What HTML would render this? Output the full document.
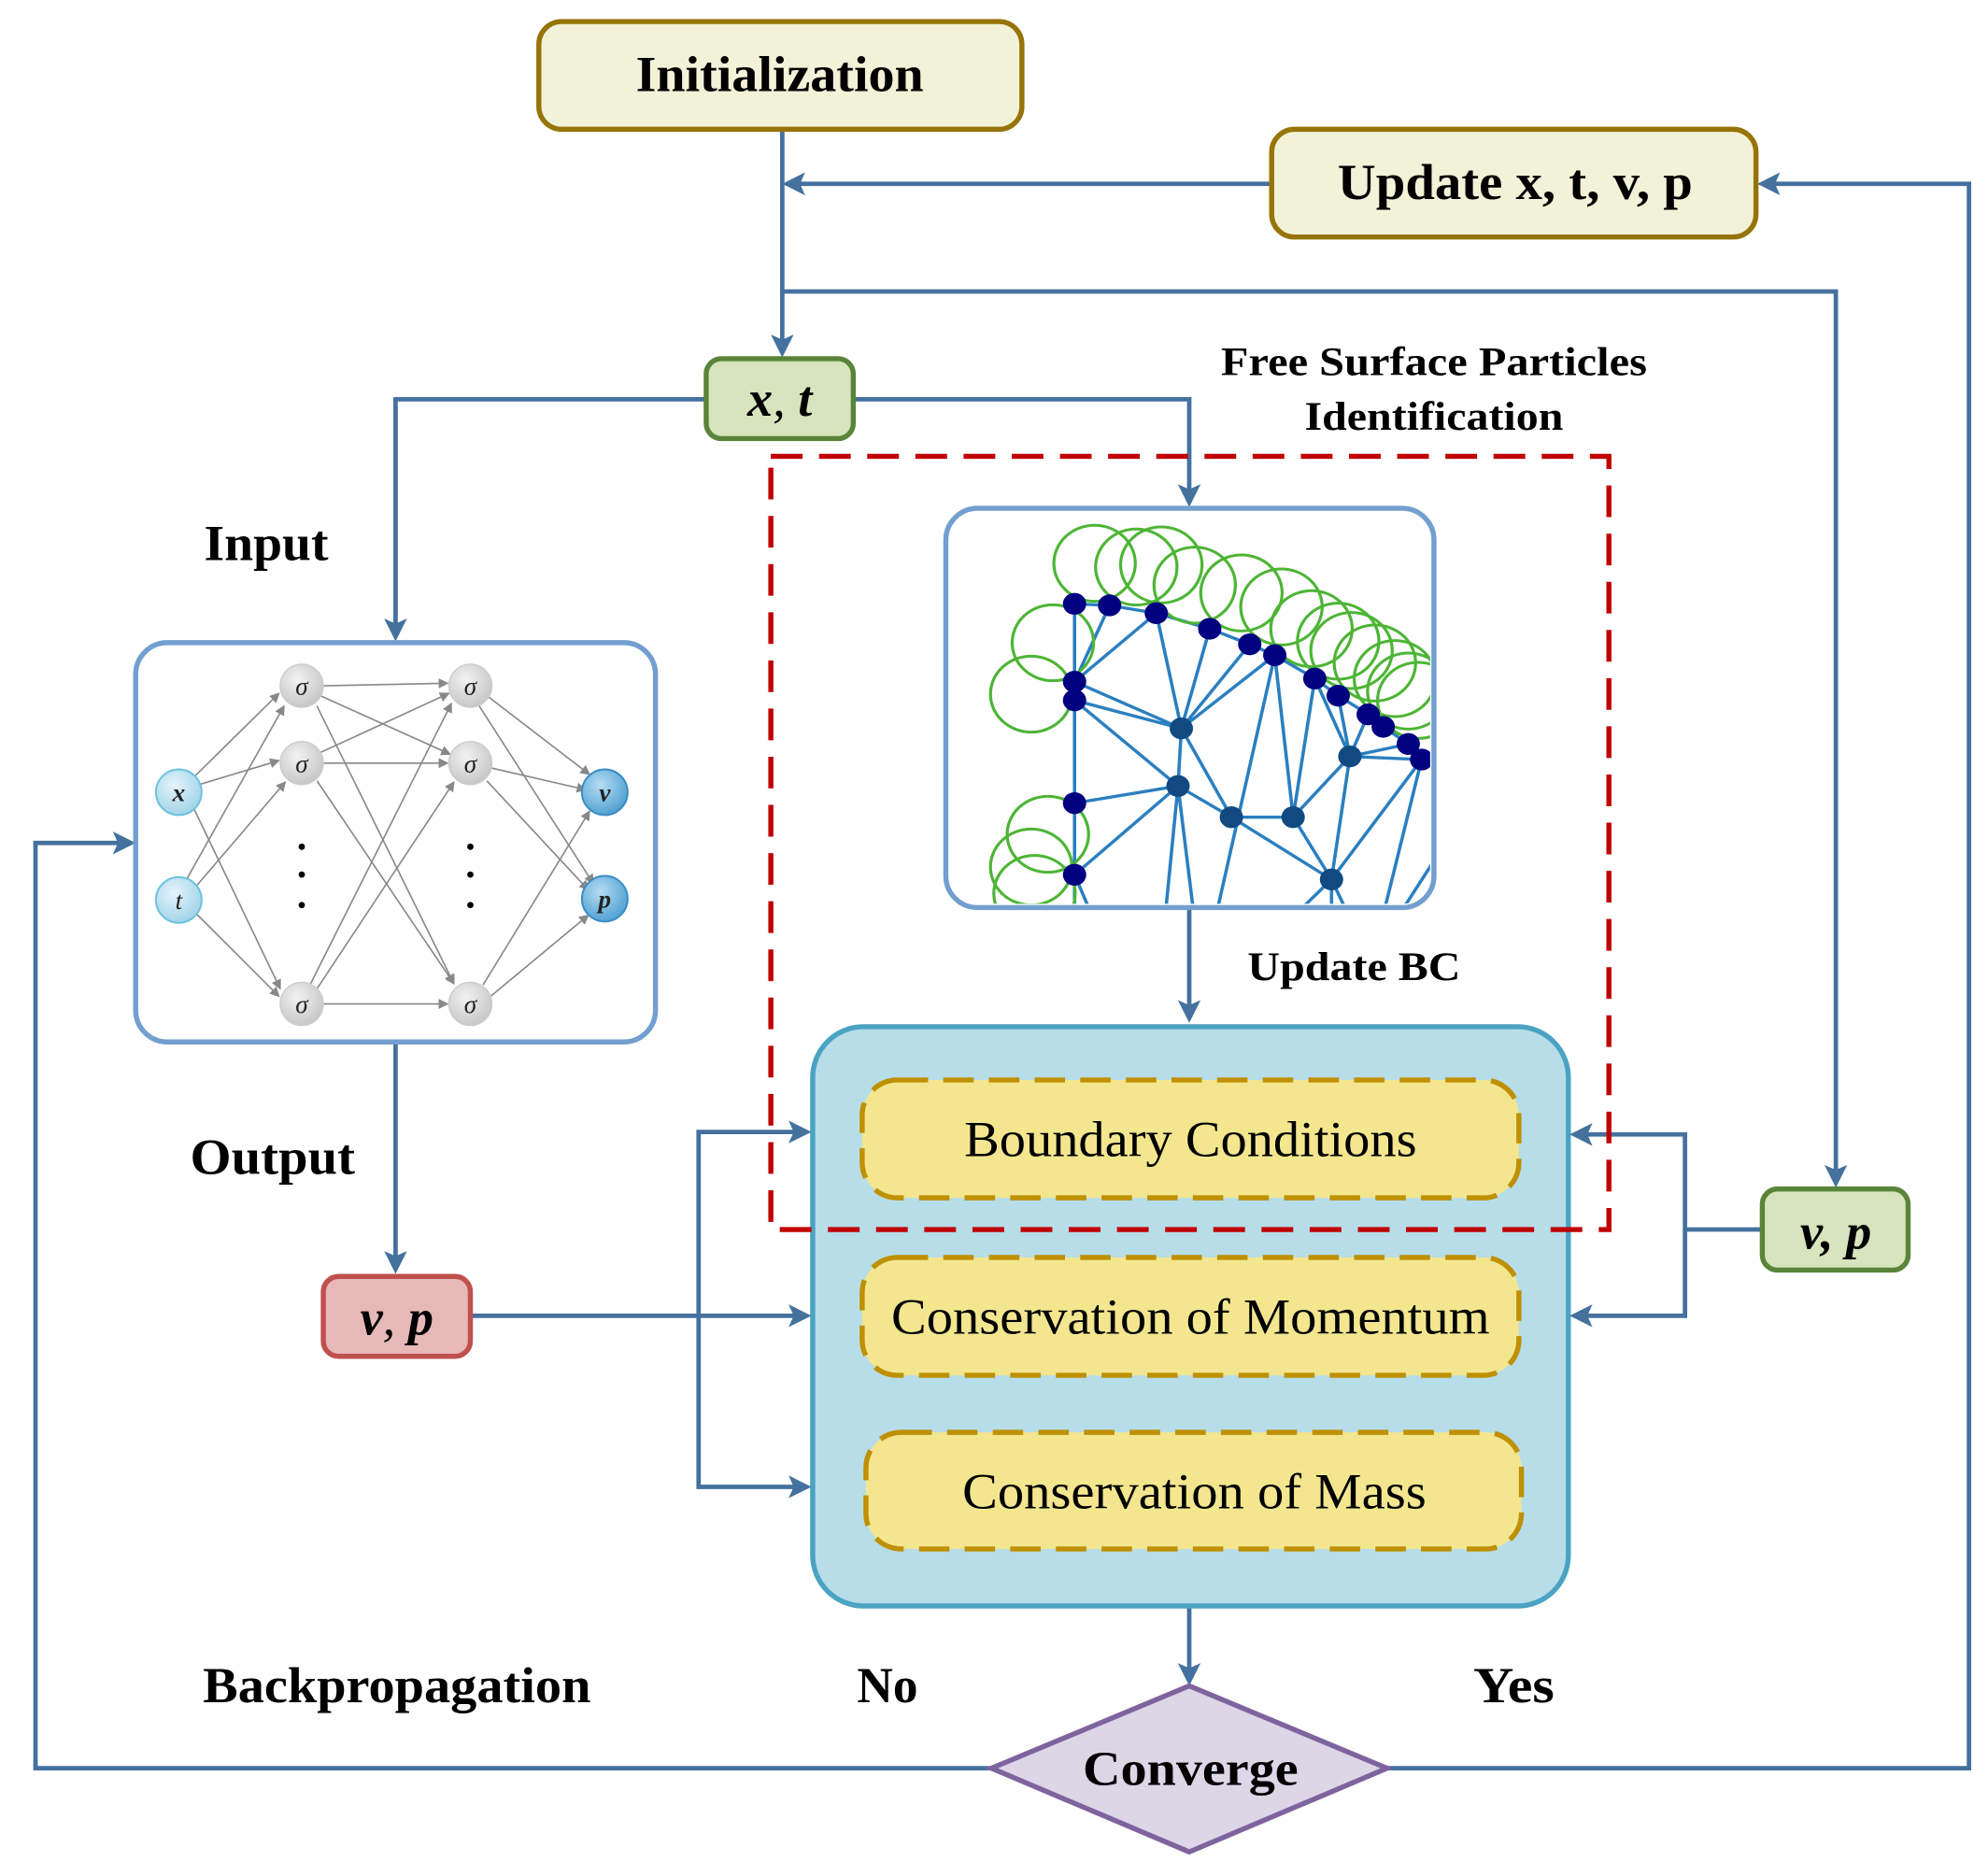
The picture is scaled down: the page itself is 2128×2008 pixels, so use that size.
<!DOCTYPE html>
<html><head><meta charset="utf-8"><style>html,body{margin:0;padding:0;background:#fff}svg{display:block}</style></head>
<body>
<svg width="2128" height="2008" viewBox="0 0 1568 1480" preserveAspectRatio="none" xmlns="http://www.w3.org/2000/svg" font-family="'Liberation Serif',serif">
<defs>
<clipPath id="pc"><rect x="749" y="404" width="379" height="309" rx="22"/></clipPath>
<marker id="g" markerWidth="8" markerHeight="8" refX="7" refY="4" orient="auto" markerUnits="userSpaceOnUse"><path d="M0,0 L8,4 L0,8 Z" fill="#888"/></marker>
<radialGradient id="gs" cx="0.4" cy="0.35" r="0.7"><stop offset="0" stop-color="#f2f2f2"/><stop offset="1" stop-color="#c4c4c4"/></radialGradient>
<radialGradient id="gb" cx="0.4" cy="0.35" r="0.7"><stop offset="0" stop-color="#e4f4fb"/><stop offset="1" stop-color="#9fd2e8"/></radialGradient>
<radialGradient id="go" cx="0.4" cy="0.35" r="0.7"><stop offset="0" stop-color="#b6dcf2"/><stop offset="1" stop-color="#4b9ed2"/></radialGradient>
</defs>

<!-- connectors -->
<g stroke="#44719e" stroke-width="3.5" fill="none">
<path d="M617,102 V270"/>
<path d="M1003,145 H628"/>
<path d="M617,230 H1448 V925"/>
<path d="M557,315 H312 V494"/>
<path d="M673,315 H938 V388"/>
<path d="M938,716 V795"/>
<path d="M312,822 V992"/>
<path d="M371,1038 H628"/>
<path d="M628,893 H551 V1173 H628"/>
<path d="M1390,970 H1329 V895 H1250 M1329,970 V1038 H1250"/>
<path d="M938,1267 V1318"/>
<path d="M782,1395 H28 V665 H94"/>
<path d="M1094,1395 H1553 V145 H1398"/>
</g>

<!-- big blue box -->
<rect x="641" y="810" width="596" height="457" rx="40" fill="#b7dde8" stroke="#4ba3c3" stroke-width="4"/>
<!-- red dashed -->
<rect x="608" y="360" width="661" height="610" fill="none" stroke="#c00000" stroke-width="4" stroke-dasharray="25,13"/>

<!-- yellow boxes -->
<g fill="#f3e68f" stroke="#bf9000" stroke-width="4" stroke-dasharray="24,12">
<rect x="680" y="852" width="518" height="93" rx="28"/>
<rect x="680" y="992" width="518" height="93" rx="28"/>
<rect x="683" y="1130" width="517" height="92" rx="28"/>
</g>
<g font-size="40" text-anchor="middle" fill="#000">
<text x="939" y="912" textLength="357" lengthAdjust="spacingAndGlyphs">Boundary Conditions</text>
<text x="939" y="1052" textLength="472" lengthAdjust="spacingAndGlyphs">Conservation of Momentum</text>
<text x="942" y="1190" textLength="366" lengthAdjust="spacingAndGlyphs">Conservation of Mass</text>
</g>

<!-- arrowheads -->
<g fill="#44719e">
<path d="M617,282 L608,264 L617,268 L626,264 Z"/>
<path d="M617,145 L635,136 L631,145 L635,154 Z"/>
<path d="M1448,937 L1439,919 L1448,923 L1457,919 Z"/>
<path d="M312,506 L303,488 L312,492 L321,488 Z"/>
<path d="M938,400 L929,382 L938,386 L947,382 Z"/>
<path d="M938,807 L929,789 L938,793 L947,789 Z"/>
<path d="M312,1005 L303,987 L312,991 L321,987 Z"/>
<path d="M640,1038 L622,1029 L626,1038 L622,1047 Z"/>
<path d="M640,893 L622,884 L626,893 L622,902 Z"/>
<path d="M640,1173 L622,1164 L626,1173 L622,1182 Z"/>
<path d="M1238,895 L1256,886 L1252,895 L1256,904 Z"/>
<path d="M1238,1038 L1256,1029 L1252,1038 L1256,1047 Z"/>
<path d="M938,1330 L929,1312 L938,1316 L947,1312 Z"/>
<path d="M107,665 L89,656 L93,665 L89,674 Z"/>
<path d="M1386,145 L1404,136 L1400,145 L1404,154 Z"/>
</g>

<!-- top boxes -->
<rect x="425" y="17" width="381" height="85" rx="18" fill="#f2f2d8" stroke="#977408" stroke-width="4"/>
<text x="615" y="72" font-size="40" font-weight="bold" text-anchor="middle" textLength="227" lengthAdjust="spacingAndGlyphs">Initialization</text>
<rect x="1003" y="102" width="382" height="85" rx="18" fill="#f2f2d8" stroke="#977408" stroke-width="4"/>
<text x="1195" y="157" font-size="40" font-weight="bold" text-anchor="middle" textLength="280" lengthAdjust="spacingAndGlyphs">Update x, t, v, p</text>

<rect x="557" y="283" width="116" height="63" rx="12" fill="#d7e4bd" stroke="#5a8439" stroke-width="4"/>
<text x="615" y="328" font-size="40" font-weight="bold" font-style="italic" text-anchor="middle">x<tspan font-weight="normal">,</tspan> t</text>

<rect x="1390" y="938" width="115" height="64" rx="12" fill="#d7e4bd" stroke="#5a8439" stroke-width="4"/>
<text x="1448" y="985" font-size="40" font-weight="bold" font-style="italic" text-anchor="middle">v, p</text>

<rect x="255" y="1007" width="116" height="63" rx="12" fill="#e6b9b8" stroke="#c0504d" stroke-width="4"/>
<text x="313" y="1053" font-size="40" font-weight="bold" font-style="italic" text-anchor="middle">v<tspan font-weight="normal">,</tspan> p</text>

<!-- diamond -->
<polygon points="938,1330 1094,1395 938,1461 782,1395" fill="#dcd6e7" stroke="#7f639e" stroke-width="4"/>
<text x="939" y="1408" font-size="38" font-weight="bold" text-anchor="middle" textLength="170" lengthAdjust="spacingAndGlyphs">Converge</text>

<!-- labels -->
<g font-weight="bold" fill="#000">
<text x="161" y="442" font-size="40" textLength="98" lengthAdjust="spacingAndGlyphs">Input</text>
<text x="150" y="926" font-size="40" textLength="130" lengthAdjust="spacingAndGlyphs">Output</text>
<text x="160" y="1343" font-size="40" textLength="306" lengthAdjust="spacingAndGlyphs">Backpropagation</text>
<text x="676" y="1343" font-size="40" textLength="48" lengthAdjust="spacingAndGlyphs">No</text>
<text x="1162" y="1343" font-size="40" textLength="64" lengthAdjust="spacingAndGlyphs">Yes</text>
<text x="963" y="296" font-size="32" textLength="336" lengthAdjust="spacingAndGlyphs">Free Surface Particles</text>
<text x="1029" y="339" font-size="32" textLength="204" lengthAdjust="spacingAndGlyphs">Identification</text>
<text x="984" y="773" font-size="32" textLength="168" lengthAdjust="spacingAndGlyphs">Update BC</text>
</g>

<!-- particle image -->
<rect x="746" y="401" width="385" height="315" rx="25" fill="#fff" stroke="#729fcf" stroke-width="4"/>
<g clip-path="url(#pc)">
<g transform="translate(737,383) scale(0.2632,0.2457)">
<g stroke="#2a7fc0" stroke-width="10" fill="none">
<path d="M420,380L525,385L665,410L825,460L945,510L1020,545L1140,620L1210,675L1300,735L1345,775L1420,830L1460,880"/>
<path d="M420,380L420,1400M525,385L420,630M665,410L420,630M665,410L740,780M825,460L740,780M1020,545L740,780M945,510L740,780M420,630L740,780M420,690L740,780M420,690L730,965M740,780L730,965M740,780L890,1065M420,1020L730,965M420,1250L730,965M730,965L890,1065M890,1065L1075,1065M1020,545L840,1400M1020,545L1075,1065M1140,620L1075,1065M1075,1065L1245,870M1245,870L1140,620M1245,870L1210,675M1245,870L1300,735M1245,870L1420,830M1245,870L1460,880M1245,870L1190,1265M1075,1065L1190,1265M890,1065L1190,1265M730,965L690,1400M730,965L780,1400M1460,880L1190,1265M1460,880L1340,1400M1190,1265L1060,1400M1190,1265L1250,1400M1190,1265L1190,1400M1560,1100L1380,1400M1560,1200L1420,1400M420,1250L480,1400"/>
</g>
<g stroke="#4db535" stroke-width="9" fill="none">
<circle cx="480" cy="250" r="122"/><circle cx="605" cy="262" r="122"/><circle cx="680" cy="255" r="122"/>
<circle cx="780" cy="320" r="122"/><circle cx="920" cy="345" r="122"/><circle cx="1040" cy="390" r="122"/>
<circle cx="1130" cy="460" r="122"/><circle cx="1210" cy="500" r="122"/><circle cx="1250" cy="530" r="122"/>
<circle cx="1320" cy="570" r="122"/><circle cx="1380" cy="620" r="122"/><circle cx="1420" cy="660" r="122"/>
<circle cx="1450" cy="690" r="122"/>
<circle cx="355" cy="505" r="122"/><circle cx="290" cy="670" r="122"/>
<circle cx="340" cy="1120" r="122"/><circle cx="290" cy="1225" r="122"/><circle cx="300" cy="1310" r="122"/>
</g>
<g fill="#000080">
<circle cx="420" cy="380" r="35"/><circle cx="525" cy="385" r="35"/><circle cx="665" cy="410" r="35"/>
<circle cx="825" cy="460" r="35"/><circle cx="945" cy="510" r="35"/><circle cx="1020" cy="545" r="35"/>
<circle cx="1140" cy="620" r="35"/><circle cx="1210" cy="675" r="35"/><circle cx="1300" cy="735" r="35"/>
<circle cx="1345" cy="775" r="35"/><circle cx="1420" cy="830" r="35"/><circle cx="1460" cy="880" r="35"/>
<circle cx="420" cy="630" r="35"/><circle cx="420" cy="690" r="35"/><circle cx="420" cy="1020" r="35"/><circle cx="420" cy="1250" r="35"/>
</g>
<g fill="#114a80">
<circle cx="740" cy="780" r="35"/><circle cx="730" cy="965" r="35"/><circle cx="890" cy="1065" r="35"/>
<circle cx="1075" cy="1065" r="35"/><circle cx="1245" cy="870" r="35"/><circle cx="1190" cy="1265" r="35"/>
</g>
</g>
</g>

<!-- NN box -->
<rect x="107" y="507" width="410" height="315" rx="25" fill="#fff" stroke="#729fcf" stroke-width="4"/>
<g stroke="#888" stroke-width="1.2" fill="none" marker-end="url(#g)">
<line x1="152" y1="614" x2="220" y2="547"/><line x1="157" y1="619" x2="220" y2="600"/><line x1="152" y1="636" x2="221" y2="780"/>
<line x1="147" y1="694" x2="224" y2="557"/><line x1="154" y1="700" x2="225" y2="617"/><line x1="154" y1="720" x2="220" y2="786"/>
<line x1="255" y1="541" x2="353" y2="539"/><line x1="253" y1="549" x2="355" y2="595"/><line x1="250" y1="557" x2="358" y2="776"/>
<line x1="252" y1="594" x2="354" y2="547"/><line x1="255" y1="602" x2="353" y2="602"/><line x1="250" y1="616" x2="358" y2="776"/>
<line x1="245" y1="776" x2="356" y2="555"/><line x1="250" y1="780" x2="358" y2="617"/><line x1="255" y1="792" x2="353" y2="792"/>
<line x1="383" y1="548" x2="465" y2="611"/><line x1="378" y1="557" x2="468" y2="697"/>
<line x1="388" y1="606" x2="462" y2="623"/><line x1="384" y1="616" x2="464" y2="702"/>
<line x1="381" y1="777" x2="465" y2="640"/><line x1="387" y1="786" x2="464" y2="722"/>
</g>
<g stroke="#ccc" stroke-width="1">
<circle cx="238" cy="541" r="17" fill="url(#gs)"/><circle cx="238" cy="602" r="17" fill="url(#gs)"/><circle cx="238" cy="792" r="17" fill="url(#gs)"/>
<circle cx="371" cy="541" r="17" fill="url(#gs)"/><circle cx="371" cy="602" r="17" fill="url(#gs)"/><circle cx="371" cy="792" r="17" fill="url(#gs)"/>
</g>
<circle cx="141" cy="625" r="18" fill="url(#gb)" stroke="#6cc3e0" stroke-width="1.5"/>
<circle cx="141" cy="710" r="18" fill="url(#gb)" stroke="#6cc3e0" stroke-width="1.5"/>
<circle cx="477" cy="625" r="18" fill="url(#go)" stroke="#3b8cc4" stroke-width="1.5"/>
<circle cx="477" cy="709" r="18" fill="url(#go)" stroke="#3b8cc4" stroke-width="1.5"/>
<g font-size="20" font-style="italic" text-anchor="middle" fill="#222">
<text x="238" y="548">σ</text><text x="238" y="609">σ</text><text x="238" y="799">σ</text>
<text x="371" y="548">σ</text><text x="371" y="609">σ</text><text x="371" y="799">σ</text>
<text x="141" y="632" font-weight="bold">x</text><text x="141" y="717">t</text>
<text x="477" y="632" font-weight="bold">v</text><text x="477" y="716" font-weight="bold">p</text>
</g>
<g fill="#000">
<circle cx="238" cy="668" r="2.5"/><circle cx="238" cy="690" r="2.5"/><circle cx="238" cy="714" r="2.5"/>
<circle cx="371" cy="668" r="2.5"/><circle cx="371" cy="690" r="2.5"/><circle cx="371" cy="714" r="2.5"/>
</g>
</svg>
</body></html>
